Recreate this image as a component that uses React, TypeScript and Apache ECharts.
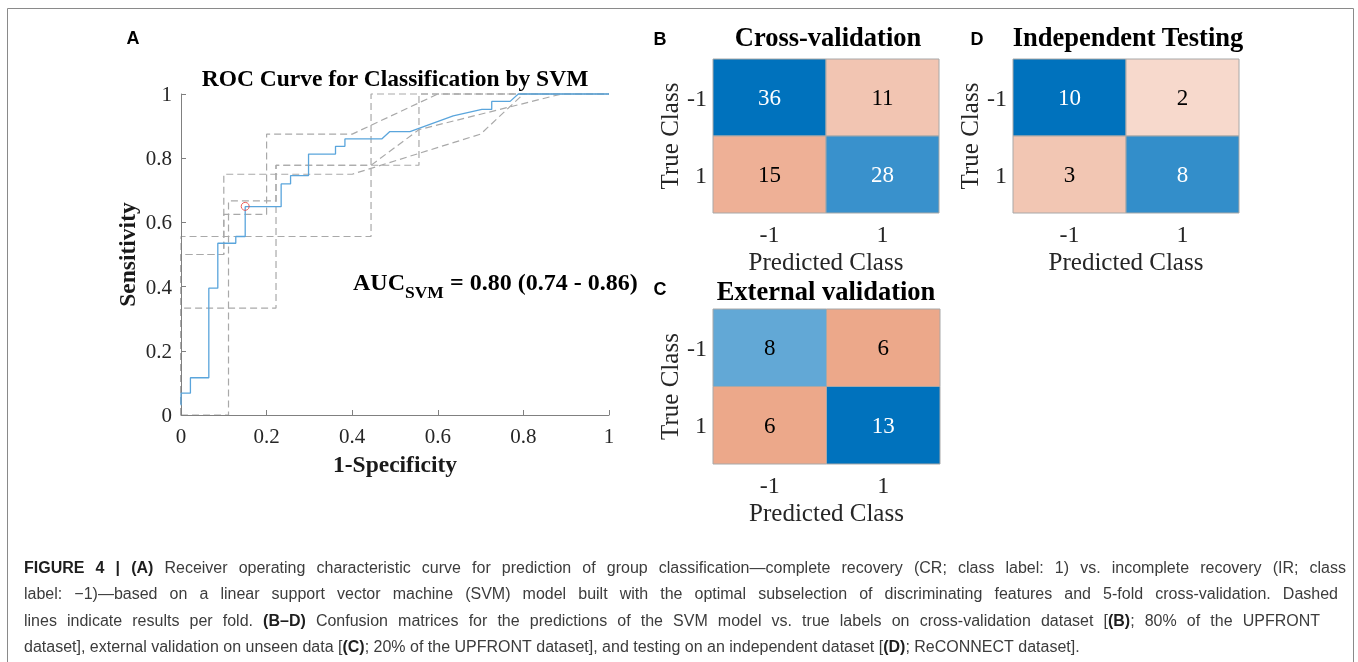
import React, { useEffect, useRef } from "react";
import * as echarts from "echarts";

// ---------- data ----------
const rocTickInterval = 0.2;
const meanRoc: [number, number][] = [
  [0, 0.03], [0, 0.068], [0.022, 0.068], [0.022, 0.116], [0.065, 0.116], [0.065, 0.395],
  [0.086, 0.395], [0.086, 0.535], [0.128, 0.535], [0.128, 0.556], [0.15, 0.556], [0.15, 0.649],
  [0.234, 0.649], [0.234, 0.72], [0.256, 0.72], [0.256, 0.746], [0.298, 0.746], [0.298, 0.813],
  [0.361, 0.813], [0.361, 0.837], [0.383, 0.837], [0.383, 0.86], [0.469, 0.86], [0.488, 0.883],
  [0.535, 0.883], [0.636, 0.932], [0.703, 0.952], [0.726, 0.952], [0.726, 0.977], [0.769, 0.977],
  [0.788, 1.0], [1, 1],
];
const fold1: [number, number][] = [[0, 0], [0, 0.556], [0.444, 0.556], [0.444, 1], [1, 1]];
const fold2: [number, number][] = [[0, 0], [0, 0.333], [0.222, 0.333], [0.222, 0.778], [0.556, 0.778], [0.556, 1], [1, 1]];
const fold3: [number, number][] = [[0, 0], [0.111, 0], [0.111, 0.667], [0.222, 0.667], [0.222, 0.778], [0.444, 0.778], [0.556, 0.889], [0.889, 1], [1, 1]];
const fold4: [number, number][] = [[0, 0], [0, 0.5], [0.1, 0.5], [0.1, 0.75], [0.4, 0.75], [0.7, 0.875], [0.8, 1], [1, 1]];
const fold5: [number, number][] = [[0, 0], [0, 0.5], [0.1, 0.5], [0.1, 0.625], [0.2, 0.625], [0.2, 0.875], [0.4, 0.875], [0.6, 1], [1, 1]];
const operatingPoint: [number, number][] = [[0.15, 0.65]];

const classLabels = ["-1", "1"];
const cvMatrix = [[36, 11], [15, 28]];
const extMatrix = [[8, 6], [6, 13]];
const indMatrix = [[10, 2], [3, 8]];

const captionLines = [
  "{b|FIGURE 4 | (A)} Receiver operating characteristic curve for prediction of group classification\u2014complete recovery (CR; class label: 1) vs. incomplete recovery (IR; class",
  "label: \u22121)\u2014based on a linear support vector machine (SVM) model built with the optimal subselection of discriminating features and 5-fold cross-validation. Dashed",
  "lines indicate results per fold. {b|(B\u2013D)} Confusion matrices for the predictions of the SVM model vs. true labels on cross-validation dataset [{b|(B)}; 80% of the UPFRONT",
  "dataset], external validation on unseen data [{b|(C)}; 20% of the UPFRONT dataset], and testing on an independent dataset [{b|(D)}; ReCONNECT dataset].",
];
// right edge each caption line is justified to (null = natural spacing)
const captionRightEdges: (number | null)[] = [1346, 1338, 1320, null];

// ---------- styles ----------
const SERIF = "Liberation Serif";
const SANS = "Liberation Sans";
const BLUE = [0, 114, 189];
const ORANGE = [217, 83, 25];
const CAP_SIZE = 16;
const CAP_LEFT = 24;

function cellColor(v: number, max: number, diag: boolean) {
  const base = diag ? BLUE : ORANGE;
  const r = Math.min(1, diag ? v / max : (v / max) * 1.1);
  const c = base.map((b) => Math.round(255 + (b - 255) * r));
  return `rgb(${c[0]},${c[1]},${c[2]})`;
}

function cellData(m: number[][]) {
  const out: number[][] = [];
  m.forEach((row, r) => row.forEach((v, c) => out.push([c, r, v])));
  return out;
}

const rocAxisLabel = { fontFamily: SERIF, fontSize: 21, color: "#262626" };
const rocName = { fontFamily: SERIF, fontSize: 23.5, fontWeight: "bold", color: "#1a1a1a" };
const cmLabel = { fontFamily: SERIF, fontSize: 24, color: "#262626" };
const cmName = { fontFamily: SERIF, fontSize: 25, color: "#262626" };

function cmXAxis(grid: number) {
  return {
    gridIndex: grid, type: "category", data: classLabels,
    axisLine: { show: false }, axisTick: { show: false }, splitLine: { show: false },
    axisLabel: { ...cmLabel, margin: 9 },
    name: "Predicted Class", nameLocation: "middle", nameGap: 36, nameTextStyle: cmName,
  };
}
function cmYAxis(grid: number) {
  return {
    gridIndex: grid, type: "category", data: classLabels, inverse: true,
    axisLine: { show: false }, axisTick: { show: false }, splitLine: { show: false },
    axisLabel: { ...cmLabel, margin: 6 },
    name: "True Class", nameLocation: "middle", nameGap: 31, nameTextStyle: cmName,
  };
}
function cmSeries(idx: number, m: number[][]) {
  const max = Math.max(...m.flat());
  return {
    type: "custom", xAxisIndex: idx, yAxisIndex: idx, data: cellData(m),
    encode: { x: 0, y: 1 },
    renderItem: (params: any, api: any) => {
      const c = api.value(0), r = api.value(1), v = api.value(2);
      const diag = c === r;
      const p = api.coord([c, r]);
      const s = api.size([1, 1]);
      const white = diag && v / max > 0.7;
      return {
        type: "group",
        children: [
          {
            type: "rect",
            shape: { x: p[0] - s[0] / 2, y: p[1] - s[1] / 2, width: s[0], height: s[1] },
            style: { fill: cellColor(v, max, diag), stroke: "#a8a8a8", lineWidth: 1 },
          },
          {
            type: "text",
            style: {
              text: String(v), x: p[0], y: p[1], align: "center", verticalAlign: "middle",
              fontFamily: SERIF, fontSize: 23, fill: white ? "#ffffff" : "#000000",
            },
          },
        ],
      };
    },
  };
}
function foldSeries(d: [number, number][]) {
  return {
    type: "line", xAxisIndex: 0, yAxisIndex: 0, data: d, symbol: "none", clip: false,
    lineStyle: { color: "#a9a9a9", width: 1.2, type: [7, 4] }, z: 2,
  };
}

function txt(x: number, y: number, text: string, size: number, family: string, weight: string, align = "center", fill = "#000") {
  return {
    type: "text", x, y,
    style: { text, fontSize: size, fontFamily: family, fontWeight: weight, fill, align, verticalAlign: "middle" },
  };
}

// ---------- caption layout (justified words) ----------
type Run = { t: string; bold: boolean };
function parseRuns(line: string): Run[] {
  const runs: Run[] = [];
  const re = /\{b\|([^}]*)\}/g;
  let last = 0;
  let m: RegExpExecArray | null;
  while ((m = re.exec(line))) {
    if (m.index > last) runs.push({ t: line.slice(last, m.index), bold: false });
    runs.push({ t: m[1], bold: true });
    last = m.index + m[0].length;
  }
  if (last < line.length) runs.push({ t: line.slice(last), bold: false });
  return runs;
}
function captionElements(): any[] {
  const canvas = document.createElement("canvas");
  const ctx = canvas.getContext("2d")!;
  const measure = (t: string, bold: boolean) => {
    ctx.font = `${bold ? "bold " : ""}${CAP_SIZE}px "${SANS}"`;
    return ctx.measureText(t).width;
  };
  const els: any[] = [];
  captionLines.forEach((line, li) => {
    const y = 567 + li * 26.5;
    const words: Run[][] = [[]];
    parseRuns(line).forEach((run) => {
      const parts = run.t.split(" ");
      parts.forEach((p, pi) => {
        if (pi > 0) words.push([]);
        if (p) words[words.length - 1].push({ t: p, bold: run.bold });
      });
    });
    const ws = words.filter((w) => w.length > 0);
    const widths = ws.map((w) => w.reduce((s, r) => s + measure(r.t, r.bold), 0));
    const total = widths.reduce((a, b) => a + b, 0);
    const edge = captionRightEdges[li];
    const gap = edge != null ? (edge - CAP_LEFT - total) / (ws.length - 1) : measure(" ", false);
    let x = CAP_LEFT;
    ws.forEach((w, wi) => {
      let rx = x;
      w.forEach((r) => {
        els.push({
          type: "text", x: rx, y, silent: true,
          style: {
            text: r.t, fontSize: CAP_SIZE, fontFamily: SANS, fontWeight: r.bold ? "bold" : "normal",
            fill: r.bold ? "#1e1e1e" : "#3c3c3c", align: "left", verticalAlign: "middle",
          },
        });
        rx += measure(r.t, r.bold);
      });
      x += widths[wi] + gap;
    });
  });
  return els;
}

export default function App() {
  const ref = useRef<HTMLDivElement>(null);
  useEffect(() => {
    if (!ref.current) return;
    const chart = echarts.init(ref.current, null, { renderer: "svg" });
    const option: any = {
      animation: false,
      grid: [
        { left: 181, top: 94, width: 428, height: 321 },
        { left: 713, top: 59, width: 226, height: 154 },
        { left: 713, top: 309, width: 227, height: 155 },
        { left: 1013, top: 59, width: 226, height: 154 },
      ],
      xAxis: [
        {
          gridIndex: 0, type: "value", min: 0, max: 1, interval: rocTickInterval, z: 3,
          axisLine: { show: true, lineStyle: { color: "#808080" } },
          axisTick: { show: true, inside: true, length: 5, lineStyle: { color: "#808080" } },
          axisLabel: { ...rocAxisLabel, margin: 10 }, splitLine: { show: false },
          name: "1-Specificity", nameLocation: "middle", nameGap: 37, nameTextStyle: rocName,
        },
        cmXAxis(1), cmXAxis(2), cmXAxis(3),
      ],
      yAxis: [
        {
          gridIndex: 0, type: "value", min: 0, max: 1, interval: rocTickInterval, z: 3,
          axisLine: { show: true, lineStyle: { color: "#808080" } },
          axisTick: { show: true, inside: true, length: 5, lineStyle: { color: "#808080" } },
          axisLabel: { ...rocAxisLabel, margin: 9 }, splitLine: { show: false },
          name: "Sensitivity", nameLocation: "middle", nameGap: 42, nameTextStyle: rocName,
        },
        cmYAxis(1), cmYAxis(2), cmYAxis(3),
      ],
      series: [
        foldSeries(fold1), foldSeries(fold2), foldSeries(fold3), foldSeries(fold4), foldSeries(fold5),
        {
          type: "line", xAxisIndex: 0, yAxisIndex: 0, data: meanRoc, symbol: "none", clip: false,
          lineStyle: { color: "#5aa5dc", width: 1.3 }, z: 4,
        },
        {
          type: "scatter", xAxisIndex: 0, yAxisIndex: 0, data: operatingPoint, symbol: "circle", symbolSize: 8,
          itemStyle: { color: "rgba(0,0,0,0)", borderColor: "#e53935", borderWidth: 1 }, z: 5,
        },
        cmSeries(1, cvMatrix), cmSeries(2, extMatrix), cmSeries(3, indMatrix),
      ],
      graphic: [
        { type: "rect", shape: { x: 7.5, y: 8.5, width: 1346, height: 700 }, style: { fill: "none", stroke: "#8a8a8a", lineWidth: 1 }, silent: true },
        txt(133, 38, "A", 18, SANS, "bold"),
        txt(660, 39, "B", 18, SANS, "bold"),
        txt(660, 289, "C", 18, SANS, "bold"),
        txt(977, 39, "D", 18, SANS, "bold"),
        txt(395, 78, "ROC Curve for Classification by SVM", 23.5, SERIF, "bold"),
        txt(828, 37, "Cross-validation", 26.5, SERIF, "bold"),
        txt(826, 291, "External validation", 26.5, SERIF, "bold"),
        txt(1128, 37, "Independent Testing", 26.5, SERIF, "bold"),
        txt(353, 282, "AUC", 24, SERIF, "bold", "left"),
        txt(405, 292, "SVM", 17.5, SERIF, "bold", "left"),
        txt(444, 282, " = 0.80 (0.74 - 0.86)", 24, SERIF, "bold", "left"),
        ...captionElements(),
      ],
    };
    chart.setOption(option);
    return () => chart.dispose();
  }, []);
  return <div ref={ref} style={{ position: "fixed", left: 0, top: 0, width: 1358, height: 662 }} />;
}
